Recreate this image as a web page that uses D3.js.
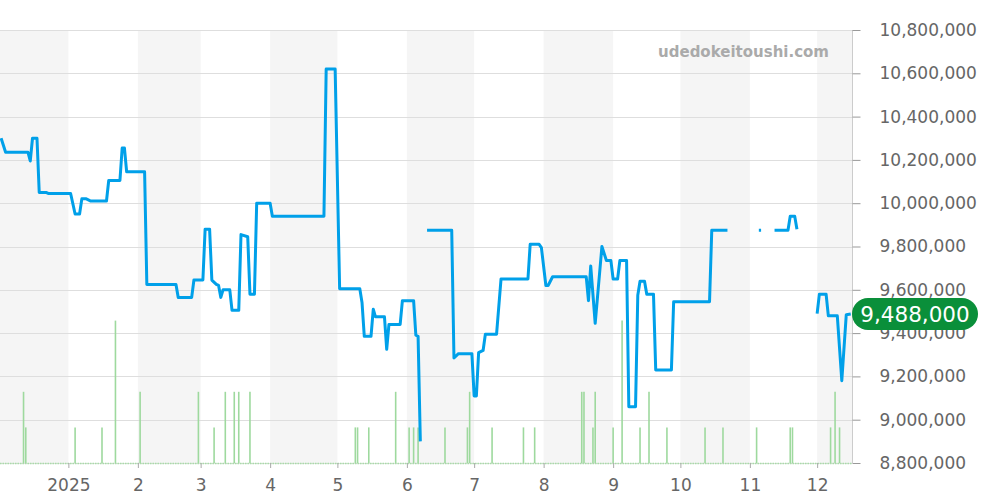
<!DOCTYPE html>
<html>
<head>
<meta charset="utf-8">
<script src="https://cdn.jsdelivr.net/npm/d3@7"></script>
<style>
  body { margin: 0; background: #fff; }
  svg { display: block; font-family: "DejaVu Sans", sans-serif; }
</style>
</head>
<body>
<script>
//==============================================================================
// data

// price line, null = no data (gap in the line)
var priceDates = [
  "2024-12-02","2024-12-04","2024-12-14","2024-12-15","2024-12-16","2024-12-18","2024-12-19","2024-12-22","2024-12-23",
  "2025-01-02","2025-01-04","2025-01-06","2025-01-07","2025-01-09","2025-01-11","2025-01-18","2025-01-19","2025-01-24",
  "2025-01-25","2025-01-26","2025-01-27","2025-02-04","2025-02-05","2025-02-18","2025-02-19","2025-02-25","2025-02-26",
  "2025-03-02","2025-03-03","2025-03-05","2025-03-06","2025-03-08","2025-03-09","2025-03-10","2025-03-11","2025-03-14",
  "2025-03-15","2025-03-18","2025-03-19","2025-03-22","2025-03-23","2025-03-25","2025-03-26","2025-04-01","2025-04-02",
  "2025-04-25","2025-04-26","2025-04-30","2025-05-02","2025-05-11","2025-05-12","2025-05-13","2025-05-16","2025-05-17",
  "2025-05-18","2025-05-22","2025-05-23","2025-05-24","2025-05-29","2025-05-30","2025-06-04","2025-06-05","2025-06-06",
  "2025-06-07","2025-06-08",
  "2025-06-10","2025-06-21","2025-06-22","2025-06-24","2025-06-30","2025-07-01","2025-07-02","2025-07-03","2025-07-05",
  "2025-07-06","2025-07-11","2025-07-13","2025-07-25","2025-07-26","2025-07-30","2025-07-31","2025-08-02","2025-08-03",
  "2025-08-05","2025-08-20","2025-08-21","2025-08-22","2025-08-24","2025-08-27","2025-08-29","2025-08-31","2025-09-01",
  "2025-09-03","2025-09-04","2025-09-07","2025-09-08","2025-09-11","2025-09-12","2025-09-13","2025-09-15","2025-09-16",
  "2025-09-19","2025-09-20","2025-09-27","2025-09-28","2025-10-14","2025-10-15","2025-10-22","2025-10-28",
  "2025-11-05","2025-11-06","2025-11-08",
  "2025-11-12","2025-11-18","2025-11-19","2025-11-21","2025-11-22","2025-11-26",
  "2025-12-01","2025-12-02","2025-12-05","2025-12-06","2025-12-10","2025-12-12","2025-12-14","2025-12-16"
];
var priceValues = [
  10300000,10235000,10235000,10195000,10300000,10300000,10050000,10050000,10045000,
  10045000,9950000,9950000,10020000,10020000,10010000,10010000,10105000,10105000,
  10255000,10255000,10145000,10145000,9625000,9625000,9565000,9565000,9645000,
  9645000,9880000,9880000,9645000,9625000,9620000,9565000,9600000,9600000,
  9505000,9505000,9855000,9845000,9580000,9580000,10000000,10000000,9940000,
  9940000,10620000,10620000,9605000,9605000,9540000,9385000,9385000,9510000,
  9475000,9475000,9325000,9440000,9440000,9550000,9550000,9390000,9385000,
  8900000,null,
  9875000,9875000,9285000,9305000,9305000,9110000,9110000,9310000,9320000,
  9395000,9395000,9650000,9650000,9810000,9810000,9795000,9620000,9620000,
  9660000,9660000,9550000,9710000,9445000,9800000,9735000,9735000,9650000,
  9650000,9735000,9735000,9060000,9060000,9575000,9640000,9640000,9580000,
  9580000,9230000,9230000,9545000,9545000,9875000,9875000,null,
  9875000,9875000,null,
  9875000,9875000,9940000,9940000,9880000,null,
  9490000,9580000,9580000,9480000,9480000,9180000,9485000,9488000
];

// listings per day (green bars)
var volumeDates = [
  "2024-12-12","2024-12-13","2025-01-04","2025-01-16","2025-01-22","2025-02-02","2025-02-28","2025-03-07","2025-03-12",
  "2025-03-16","2025-03-18","2025-03-23","2025-05-09","2025-05-10","2025-05-15","2025-05-27","2025-06-02","2025-06-04",
  "2025-06-06","2025-06-18","2025-06-28","2025-06-29","2025-07-09","2025-07-23","2025-07-28","2025-08-18","2025-08-19",
  "2025-08-23","2025-08-24","2025-09-01","2025-09-05","2025-09-13","2025-09-17","2025-09-25","2025-10-12","2025-10-20",
  "2025-11-04","2025-11-19","2025-11-20","2025-12-07","2025-12-09","2025-12-11"
];
var volumeCounts = [
  2,1,1,1,4,2,2,1,2,
  2,2,2,1,1,1,2,1,1,
  1,1,1,2,1,1,1,2,2,
  1,2,1,4,1,2,1,1,1,
  1,1,1,1,2,1
];

var yTickValues = [8800000,9000000,9200000,9400000,9600000,9800000,10000000,10200000,10400000,10600000,10800000];
var monthStarts = ["2025-01-01","2025-02-01","2025-03-01","2025-04-01","2025-05-01","2025-06-01",
                   "2025-07-01","2025-08-01","2025-09-01","2025-10-01","2025-11-01","2025-12-01"];
var shadedMonths = ["2024-12-01","2025-02-01","2025-04-01","2025-06-01","2025-08-01","2025-10-01","2025-12-01"];
var lastPrice = 9488000;
var watermark = "udedokeitoushi.com";

//==============================================================================

var totalWidth = 1000;
var totalHeight = 500;
var plotLeft = 0, plotRight = 852, plotTop = 30, plotBottom = 463;

var parseDate = d3.utcParse("%Y-%m-%d");

var svg = d3.select("body").append("svg")
    .attr("width", totalWidth)
    .attr("height", totalHeight);

var x = d3.scaleUtc()
    .domain([new Date(Date.UTC(2024, 11, 1, 12)), new Date(Date.UTC(2025, 11, 17, 0))])
    .range([plotLeft, plotRight + 1]);

var y = d3.scaleLinear()
    .domain([8800000, 10800000])
    .range([plotBottom, plotTop]);

var yVol = d3.scaleLinear()
    .domain([0, 12])
    .range([plotBottom, plotBottom - 12 * 35.6]);

// alternating month bands
svg.append("g").selectAll("rect")
    .data(shadedMonths)
    .join("rect")
    .attr("x", function(d) { return Math.max(plotLeft, x(parseDate(d))); })
    .attr("y", plotTop)
    .attr("width", function(d) {
        var s = parseDate(d);
        var e = d3.utcMonth.offset(s, 1);
        return Math.min(plotRight, x(e)) - Math.max(plotLeft, x(s));
    })
    .attr("height", plotBottom - plotTop)
    .attr("fill", "#f5f5f5");

// horizontal grid
svg.append("g").selectAll("line")
    .data(yTickValues)
    .join("line")
    .attr("x1", plotLeft).attr("x2", plotRight)
    .attr("y1", function(d) { return Math.round(y(d)) + 0.5; })
    .attr("y2", function(d) { return Math.round(y(d)) + 0.5; })
    .attr("stroke", "#dedede")
    .attr("stroke-width", 1);

// volume bars
var volData = volumeDates.map(function(d, i) { return { date: parseDate(d), n: volumeCounts[i] }; });
svg.append("g").selectAll("line")
    .data(volData)
    .join("line")
    .attr("x1", function(d) { return x(d.date); })
    .attr("x2", function(d) { return x(d.date); })
    .attr("y1", yVol(0))
    .attr("y2", function(d) { return yVol(d.n); })
    .attr("stroke", "#9ed99e")
    .attr("stroke-width", 1.6);

// dotted baseline of the volume bars
svg.append("line")
    .attr("x1", plotLeft).attr("x2", plotRight)
    .attr("y1", plotBottom + 0.5).attr("y2", plotBottom + 0.5)
    .attr("stroke", "#a8dca8")
    .attr("stroke-width", 1.5)
    .attr("stroke-dasharray", "1.5,1");

// price line
var priceData = priceDates.map(function(d, i) { return { date: parseDate(d), v: priceValues[i] }; });
var line = d3.line()
    .defined(function(d) { return d.v !== null; })
    .x(function(d) { return x(d.date); })
    .y(function(d) { return y(d.v); });

svg.append("path")
    .datum(priceData)
    .attr("d", line)
    .attr("fill", "none")
    .attr("stroke", "#00a0e9")
    .attr("stroke-width", 3)
    .attr("stroke-linejoin", "round");

// y axis on the right
var yAxis = svg.append("g")
    .attr("transform", "translate(" + (plotRight + 0.5) + ",0)")
    .call(d3.axisRight(y).tickValues(yTickValues).tickFormat(d3.format(",")).tickSize(8).tickPadding(19));
yAxis.select(".domain").attr("stroke", "#cccccc").attr("d", "M0," + plotTop + "V" + plotBottom);
yAxis.selectAll(".tick line").attr("stroke", "#999");
yAxis.selectAll(".tick text")
    .attr("fill", "#666")
    .style("font-size", "17px")
    .style("font-family", "DejaVu Sans");

// x axis
var xAxis = svg.append("g")
    .attr("transform", "translate(0," + plotBottom + ")")
    .call(d3.axisBottom(x)
        .tickValues(monthStarts.map(parseDate))
        .tickFormat(function(d) { return d.getUTCMonth() === 0 ? d.getUTCFullYear() : (d.getUTCMonth() + 1); })
        .tickSize(5).tickPadding(11));
xAxis.select(".domain").remove();
xAxis.selectAll(".tick line").attr("stroke", "#aaa");
xAxis.selectAll(".tick text")
    .attr("fill", "#666")
    .style("font-size", "17px")
    .style("font-family", "DejaVu Sans");

// watermark
svg.append("text")
    .attr("x", 829).attr("y", 57)
    .attr("text-anchor", "end")
    .style("font-family", "DejaVu Sans")
    .style("font-weight", "bold")
    .style("font-size", "15px")
    .attr("fill", "#aaaaaa")
    .text(watermark);

// last price badge
var badgeY = y(lastPrice);
svg.append("rect")
    .attr("x", plotRight).attr("y", badgeY - 16)
    .attr("width", 126).attr("height", 32)
    .attr("rx", 16).attr("ry", 16)
    .attr("fill", "#0a8f3a");
svg.append("text")
    .attr("x", plotRight + 63).attr("y", badgeY)
    .attr("dy", "0.36em")
    .attr("text-anchor", "middle")
    .style("font-family", "DejaVu Sans")
    .style("font-size", "21.5px")
    .attr("fill", "#fff")
    .text(d3.format(",")(lastPrice));
</script>
</body>
</html>
